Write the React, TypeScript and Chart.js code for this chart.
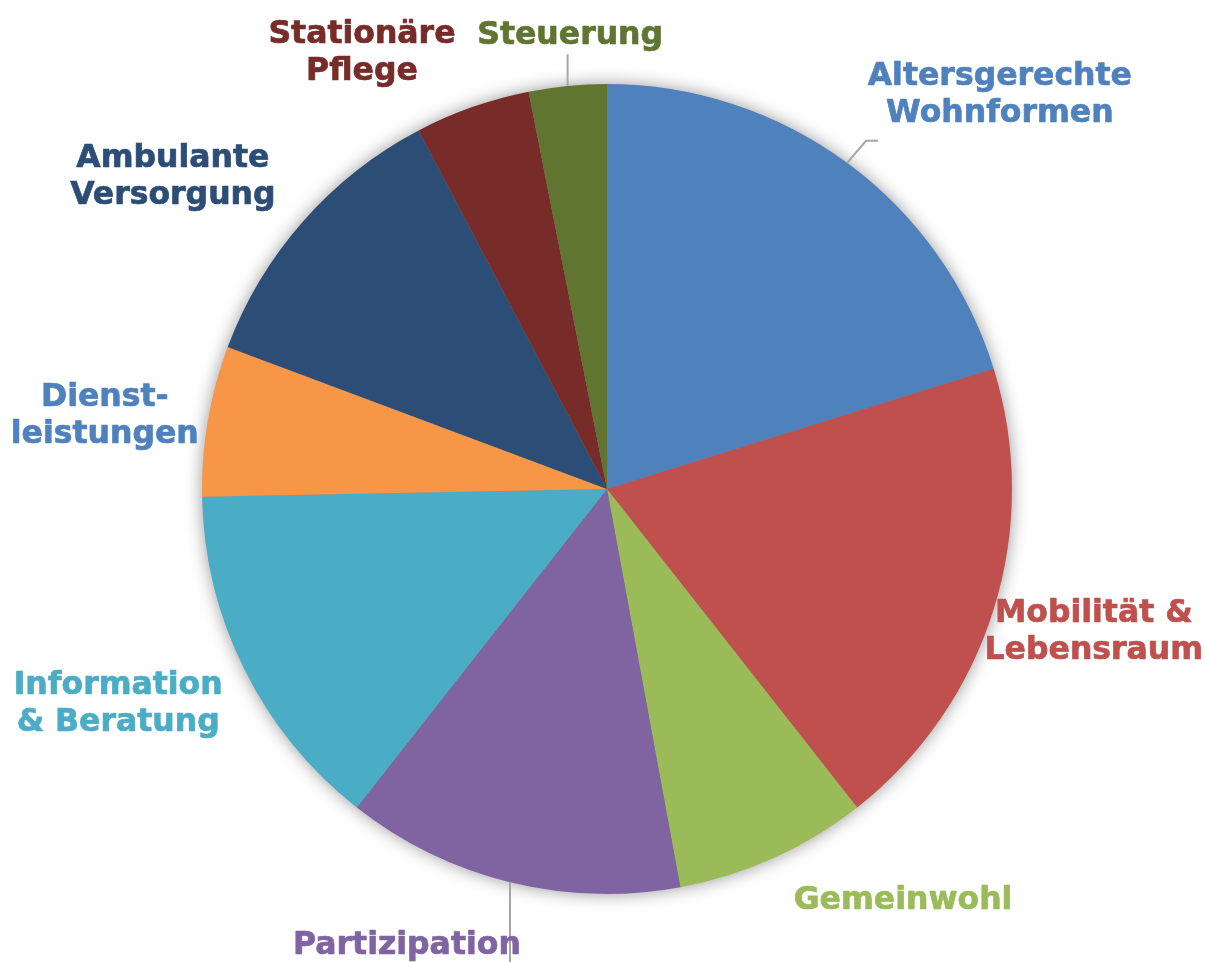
import React, { useEffect, useRef } from "react";
import { Chart, registerables } from "chart.js";

Chart.register(...registerables);

const categories: string[][] = [
  ["Altersgerechte", "Wohnformen"],
  ["Mobilität &", "Lebensraum"],
  ["Gemeinwohl"],
  ["Partizipation"],
  ["Information", "& Beratung"],
  ["Dienst-", "leistungen"],
  ["Ambulante", "Versorgung"],
  ["Stationäre", "Pflege"],
  ["Steuerung"],
];

const shares: number[] = [20.2, 19.2, 7.7, 13.5, 14.1, 6.0, 11.6, 4.6, 3.1];

const sliceColors: string[] = [
  "#4F81BD",
  "#C0504D",
  "#9BBB59",
  "#8064A2",
  "#4BACC6",
  "#F79646",
  "#2C4D75",
  "#772C2A",
  "#5F7530",
];

const labelColors: string[] = [
  "#4F81BD",
  "#C0504D",
  "#9BBB59",
  "#8064A2",
  "#4BACC6",
  "#4F81BD",
  "#2C4D75",
  "#772C2A",
  "#5F7530",
];

// label centres, in units of the pie radius relative to the pie centre
const labelLayout: [number, number][] = [
  [0.97, -0.972],
  [1.202, 0.354],
  [0.731, 1.018],
  [-0.494, 1.127],
  [-1.207, 0.532],
  [-1.24, -0.179],
  [-1.072, -0.769],
  [-0.605, -1.075],
  [-0.091, -1.12],
];

// leader line kinds: 0 none, 1 elbow to the right, 2 vertical
const leaderKind: number[] = [1, 0, 0, 2, 0, 0, 0, 0, 2];

const FONT_SIZE = 31.5;
const LINE_H = 37;

const shadowPlugin = {
  id: "pieShadow",
  beforeDatasetsDraw(chart: any) {
    const meta = chart.getDatasetMeta(0);
    const arc = meta.data[0];
    if (!arc) return;
    const { x, y, outerRadius } = arc.getProps(["x", "y", "outerRadius"], true);
    const ctx = chart.ctx;
    ctx.save();
    ctx.shadowColor = "rgba(0,0,0,0.45)";
    ctx.shadowBlur = 18;
    ctx.fillStyle = "#888";
    ctx.beginPath();
    ctx.arc(x, y, outerRadius - 1, 0, Math.PI * 2);
    ctx.fill();
    ctx.restore();
  },
};

const labelPlugin = {
  id: "outLabels",
  afterDatasetsDraw(chart: any) {
    const ctx = chart.ctx;
    const meta = chart.getDatasetMeta(0);
    meta.data.forEach((arc: any, i: number) => {
      const { x, y, outerRadius, startAngle, endAngle } = arc.getProps(
        ["x", "y", "outerRadius", "startAngle", "endAngle"],
        true
      );
      const mid = (startAngle + endAngle) / 2;
      const ex = x + Math.cos(mid) * outerRadius;
      const ey = y + Math.sin(mid) * outerRadius;
      const lx = x + labelLayout[i][0] * outerRadius;
      const ly = y + labelLayout[i][1] * outerRadius;
      const lines = categories[i];
      const top = ly - ((lines.length - 1) * LINE_H) / 2;

      ctx.save();
      ctx.strokeStyle = "#A6A6A6";
      ctx.lineWidth = 2;
      if (leaderKind[i] === 1) {
        ctx.beginPath();
        ctx.moveTo(ex, ey);
        ctx.lineTo(ex + 19, ey - 22);
        ctx.lineTo(ex + 31, ey - 22);
        ctx.stroke();
      } else if (leaderKind[i] === 2) {
        const dirDown = ly > y;
        ctx.beginPath();
        ctx.moveTo(ex, ey);
        if (dirDown) ctx.lineTo(ex, chart.height + 5);
        else ctx.lineTo(ex, top + FONT_SIZE * 0.6);
        ctx.stroke();
      }
      ctx.restore();

      ctx.save();
      ctx.font = `bold ${FONT_SIZE}px "DejaVu Sans", Verdana, sans-serif`;
      ctx.fillStyle = labelColors[i];
      ctx.strokeStyle = labelColors[i];
      ctx.lineWidth = 0.7;
      ctx.lineJoin = "round";
      ctx.textAlign = "center";
      ctx.textBaseline = "middle";
      lines.forEach((t, k) => {
        ctx.fillText(t, lx, top + k * LINE_H);
        ctx.strokeText(t, lx, top + k * LINE_H);
      });
      ctx.restore();
    });
  },
};

export default function App() {
  const ref = useRef<HTMLCanvasElement>(null);
  useEffect(() => {
    document.body.style.margin = "0";
    const canvas = ref.current;
    if (!canvas) return;
    const chart = new Chart(canvas, {
      type: "pie",
      data: {
        labels: categories.map((c) => c.join(" ")),
        datasets: [
          {
            data: shares,
            backgroundColor: sliceColors,
            borderWidth: 0,
          },
        ],
      },
      options: {
        responsive: false,
        animation: false,
        layout: { padding: { left: 202, right: 193, top: 84, bottom: 68 } },
        plugins: {
          legend: { display: false },
          tooltip: { enabled: false },
        },
      },
      plugins: [shadowPlugin, labelPlugin],
    });
    return () => chart.destroy();
  }, []);
  return (
    <div style={{ width: 1205, height: 962, background: "#fff" }}>
      <canvas ref={ref} width={1205} height={962} style={{ display: "block" }} />
    </div>
  );
}
